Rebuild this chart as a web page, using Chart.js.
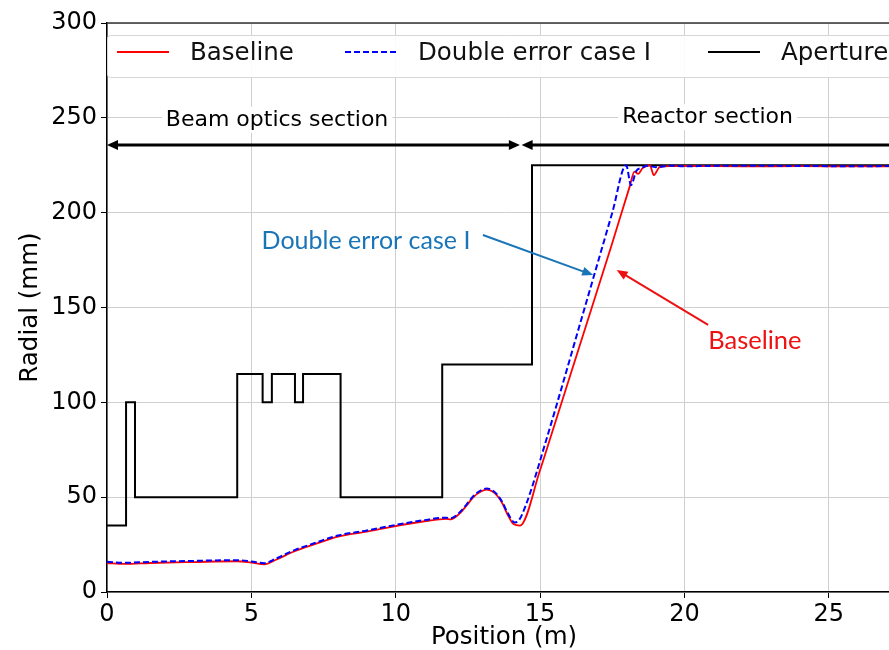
<!DOCTYPE html>
<html>
<head>
<meta charset="utf-8">
<title>Radial profile</title>
<script src="https://cdn.jsdelivr.net/npm/chart.js"></script>
<style>
  body { margin: 0; overflow: hidden; background: #fff; }
</style>
</head>
<body>
<canvas id="radialChart" width="905" height="650"></canvas>
<script>
// baseline envelope (m, mm)
const basePos = [0, 0.6, 1.5, 3, 4.5, 5.0, 5.45, 5.85, 6.5, 7.2, 8.0, 9.0, 9.8, 11.0, 11.75, 11.9, 12.2, 12.45, 12.7, 12.95, 13.15, 13.35, 13.5, 13.7, 13.85, 14.08, 14.3, 15.0, 15.33, 16.5, 17.5, 18.1, 18.27, 18.4, 18.55, 18.8, 18.94, 19.15, 19.5, 20, 22, 24, 26, 27.5];
const baseRad = [15.3, 14.8, 15.3, 15.8, 16.2, 15.5, 14.6, 17.0, 21.5, 25.2, 29.2, 31.8, 34.2, 37.3, 38.6, 38.3, 41.2, 45.5, 50.2, 53.0, 54.0, 53.0, 51.0, 46.5, 41.5, 35.8, 35.0, 64.3, 80, 136, 184, 213.6, 221.6, 220.5, 223.5, 225, 219.8, 224.2, 224.5, 224.6, 224.4, 224.5, 224.4, 224.4];

// double error case I
const errPos = [0, 0.6, 1.5, 3, 4.5, 5.0, 5.45, 5.85, 6.5, 7.2, 8.0, 9.0, 9.8, 11.0, 11.75, 11.9, 12.2, 12.45, 12.7, 12.95, 13.15, 13.35, 13.5, 13.7, 13.85, 14.12, 14.25, 14.5, 15.21, 16.5, 17.5, 17.98, 18.15, 18.33, 18.5, 18.7, 19, 19.5, 20, 22, 24, 26, 27.5];
const errRad = [15.9, 15.4, 15.9, 16.4, 16.8, 16.1, 15.2, 17.6, 22.1, 25.8, 29.8, 32.4, 34.8, 37.9, 39.2, 38.9, 41.8, 46.1, 50.8, 53.6, 54.6, 53.6, 51.6, 47.2, 42.5, 36.7, 37.5, 45.5, 80, 147.5, 200, 225, 214.5, 222, 223.5, 224.8, 224, 224.8, 224.5, 224.8, 224.6, 224.5, 224.6];

// aperture, each value holds until the next position
const apPos = [0, 0.66, 0.97, 4.51, 5.39, 5.71, 6.51, 6.79, 8.09, 11.61, 14.72, 27.5];
const apRad = [35, 100, 50, 115, 100, 115, 100, 115, 50, 120, 225, 225];

const xTicks = [0, 5, 10, 15, 20, 25];
const yTicks = [0, 50, 100, 150, 200, 250, 300];

const toPts = (xs, ys) => xs.map((x, i) => ({x: x, y: ys[i]}));

function arrowHead(ctx, x1, y1, x2, y2, len, half) {
  const a = Math.atan2(y2 - y1, x2 - x1);
  const c = Math.cos(a), s = Math.sin(a);
  ctx.beginPath();
  ctx.moveTo(x2, y2);
  ctx.lineTo(x2 - len * c + half * s, y2 - len * s - half * c);
  ctx.lineTo(x2 - len * c - half * s, y2 - len * s + half * c);
  ctx.closePath();
  ctx.fill();
}

function arrow(ctx, x1, y1, x2, y2, color, width, len, half, both) {
  const a = Math.atan2(y2 - y1, x2 - x1);
  ctx.strokeStyle = color;
  ctx.fillStyle = color;
  ctx.lineWidth = width;
  ctx.beginPath();
  ctx.moveTo(both ? x1 + len * 0.8 * Math.cos(a) : x1, both ? y1 + len * 0.8 * Math.sin(a) : y1);
  ctx.lineTo(x2 - len * 0.8 * Math.cos(a), y2 - len * 0.8 * Math.sin(a));
  ctx.stroke();
  arrowHead(ctx, x1, y1, x2, y2, len, half);
  if (both) arrowHead(ctx, x2, y2, x1, y1, len, half);
}

function boxedText(ctx, text, cx, cy) {
  const w = ctx.measureText(text).width;
  ctx.fillStyle = '#fff';
  ctx.fillRect(cx - w / 2 - 4, cy - 13, w + 8, 26);
  ctx.fillStyle = '#000';
  ctx.fillText(text, cx, cy);
}

// section arrows and callouts, in data units
const notes = {
  id: 'notes',
  afterDatasetsDraw(chart) {
    const {ctx, scales: {x, y}, chartArea: ca} = chart;
    ctx.save();
    // top spine
    ctx.strokeStyle = '#333';
    ctx.lineWidth = 1.5;
    ctx.beginPath();
    ctx.moveTo(ca.left, ca.top);
    ctx.lineTo(ca.right, ca.top);
    ctx.stroke();

    const sy = y.getPixelForValue(235.7);
    arrow(ctx, x.getPixelForValue(0), sy, x.getPixelForValue(14.3), sy, '#000', 3, 11, 5, true);
    arrow(ctx, x.getPixelForValue(27.5), sy, x.getPixelForValue(14.36), sy, '#000', 3, 11, 5, false);

    ctx.font = '22px "DejaVu Sans"';
    ctx.textAlign = 'center';
    ctx.textBaseline = 'middle';
    boxedText(ctx, 'Beam optics section', x.getPixelForValue(5.89), y.getPixelForValue(248.9));
    boxedText(ctx, 'Reactor section', x.getPixelForValue(20.8), y.getPixelForValue(250.3));

    ctx.font = '25px Lato';
    ctx.fillStyle = '#1a75b8';
    ctx.fillText('Double error case I', x.getPixelForValue(8.97), y.getPixelForValue(185.1));
    arrow(ctx, x.getPixelForValue(13.02), y.getPixelForValue(188.2), x.getPixelForValue(16.84), y.getPixelForValue(167.1), '#1a75b8', 2, 11, 4.5, false);

    ctx.font = '25.5px Lato';
    ctx.fillStyle = '#ee1111';
    ctx.fillText('Baseline', x.getPixelForValue(22.44), y.getPixelForValue(132.3));
    arrow(ctx, x.getPixelForValue(20.82), y.getPixelForValue(140.8), x.getPixelForValue(17.65), y.getPixelForValue(169.8), '#ee1111', 2, 11, 4.5, false);
    ctx.restore();
  },
  afterDraw(chart) {
    // legend box across the top of the plot
    const {ctx, chartArea: ca} = chart;
    const top = ca.top + 12, h = 42, mid = top + 19;
    ctx.save();
    ctx.fillStyle = 'rgba(255,255,255,0.92)';
    ctx.strokeStyle = '#d6d6d6';
    ctx.lineWidth = 1;
    ctx.beginPath();
    ctx.roundRect(ca.left + 0.5, top + 0.5, 900, h, 3);
    ctx.fill();
    ctx.stroke();
    const slots = [10, 238, 601];
    ctx.font = '24.5px "DejaVu Sans"';
    ctx.textBaseline = 'middle';
    chart.data.datasets.forEach((ds, i) => {
      const lx = ca.left + slots[i];
      ctx.strokeStyle = ds.borderColor;
      ctx.lineWidth = ds.borderWidth;
      ctx.setLineDash(ds.borderDash || []);
      ctx.beginPath();
      ctx.moveTo(lx, mid - 2);
      ctx.lineTo(lx + 52, mid - 2);
      ctx.stroke();
      ctx.setLineDash([]);
      ctx.fillStyle = '#111';
      ctx.fillText(ds.label, lx + 73, mid);
    });
    ctx.restore();
  }
};

const axisFont = {family: 'DejaVu Sans', size: 24};

new Chart(document.getElementById('radialChart'), {
  type: 'line',
  data: {
    datasets: [
      {label: 'Baseline', data: toPts(basePos, baseRad), borderColor: '#ff0000', borderWidth: 1.8, pointRadius: 0, cubicInterpolationMode: 'monotone', order: 2},
      {label: 'Double error case I', data: toPts(errPos, errRad), borderColor: '#0000ff', borderWidth: 2, borderDash: [6, 3], pointRadius: 0, cubicInterpolationMode: 'monotone', order: 1},
      {label: 'Aperture', data: toPts(apPos, apRad), borderColor: '#000000', borderWidth: 2, stepped: true, pointRadius: 0, order: 3}
    ]
  },
  options: {
    responsive: false,
    animation: false,
    layout: {padding: {top: 23, right: 4, left: 0, bottom: 0}},
    plugins: {legend: {display: false}, tooltip: {enabled: false}},
    scales: {
      x: {
        type: 'linear', min: 0, max: 27.5,
        afterBuildTicks: s => { s.ticks = xTicks.map(v => ({value: v})); },
        afterFit: s => { s.height = 58; },
        ticks: {font: axisFont, color: '#000', padding: 2, maxRotation: 0},
        grid: {color: '#cfcfcf', tickColor: '#000', tickLength: 6},
        border: {color: '#000', width: 1.5},
        title: {display: true, text: 'Position (m)', color: '#000', font: {family: 'DejaVu Sans', size: 24.5, lineHeight: 1}, padding: {top: 0, bottom: 0}}
      },
      y: {
        min: 0, max: 300,
        afterBuildTicks: s => { s.ticks = yTicks.map(v => ({value: v})); },
        afterFit: s => { s.width = 107; },
        ticks: {font: axisFont, color: '#000', padding: 4},
        grid: {color: '#cfcfcf', tickColor: '#000', tickLength: 6},
        border: {color: '#000', width: 1.5},
        title: {display: true, text: 'Radial (mm)', color: '#000', font: {family: 'DejaVu Sans', size: 24.5}, padding: {top: 16, bottom: 0}}
      }
    }
  },
  plugins: [notes]
});
</script>
</body>
</html>
